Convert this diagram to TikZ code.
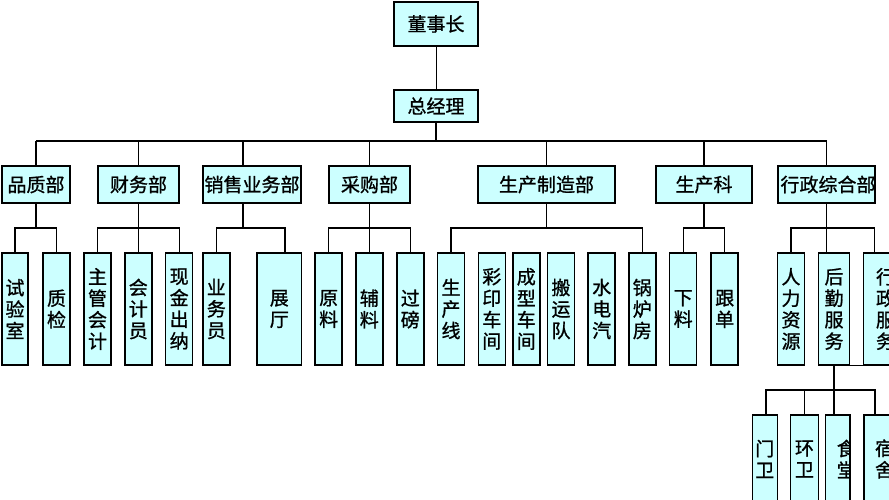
\documentclass[tikz,border=0pt]{standalone}
\usepackage{fontspec}
\newfontfamily\cjk[FakeBold=1]{Noto Sans CJK SC}
\definecolor{boxc}{RGB}{204,255,255}
\tikzset{
  bx/.style={draw=black, line width=1.5pt, fill=boxc, inner sep=0pt,
    font=\cjk\fontsize{19}{21.5}\selectfont, align=center},
  txt/.style={inner sep=0pt, font=\cjk\fontsize{19}{21.5}\selectfont, align=center},
  lvl/.style={bx, minimum height=37pt},
  sub/.style={bx, minimum height=112pt, minimum width=27pt},
  bot/.style={bx, minimum height=88pt, minimum width=27pt},
  ln/.style={line width=1.3pt, draw=black},
}
\begin{document}
\begin{tikzpicture}[x=1pt,y=-1pt]
\useasboundingbox (0,0) rectangle (889,500);
\clip (0,0) rectangle (889,500);
\fill[white] (0,0) rectangle (889,500);

% top
\node[bx, minimum width=84pt, minimum height=44pt] (dsz) at (436,24) {董事长};
\node[bx, minimum width=84pt, minimum height=32pt] (zjl) at (436,106) {总经理};
\coordinate (b0) at (436,141);
\coordinate (sb) at (0,228);
\coordinate (sb2) at (0,390);

% level 2
\node[lvl, minimum width=68pt] (pzb) at (36,184.5) {品质部};
\node[lvl, minimum width=81pt] (cwb) at (138.5,184.5) {财务部};
\node[lvl, minimum width=98pt] (xsb) at (252,184.5) {销售业务部};
\node[lvl, minimum width=81pt] (cgb) at (369.5,184.5) {采购部};
\node[lvl, minimum width=137pt] (sczzb) at (546.5,184.5) {生产制造部};
\node[lvl, minimum width=96pt] (sck) at (704,184.5) {生产科};
\node[lvl, minimum width=97pt] (xzzhb) at (826.5,184.5) {};
\begin{scope}
  \clip (xzzhb.south west) rectangle (xzzhb.north east);
  \node[txt] at ([xshift=1.5pt]xzzhb.center) {行政综合部};
\end{scope}

% level 3
\node[sub, minimum width=26pt] (sys) at (15,309) {试\\验\\室};
\node[sub] (zj) at (56.5,309) {质\\检};
\node[sub] (zgkj) at (97.5,309) {主\\管\\会\\计};
\node[sub] (kjy) at (138.3,309) {会\\计\\员};
\node[sub] (xjcn) at (179.2,309) {现\\金\\出\\纳};
\node[sub] (ywy) at (216.3,309) {业\\务\\员};
\node[sub, minimum width=44.7pt] (zt) at (279.3,309) {展\\厅};
\node[sub] (yl) at (328.7,309) {原\\料};
\node[sub] (fl) at (369.3,309) {辅\\料};
\node[sub] (gb) at (410.3,309) {过\\磅};
\node[sub] (scx) at (451,309) {生\\产\\线};
\node[sub] (cy) at (491.8,309) {彩\\印\\车\\间};
\node[sub] (cx) at (526.3,309) {成\\型\\车\\间};
\node[sub] (byd) at (561,309) {搬\\运\\队};
\node[sub] (sdq) at (601.7,309) {水\\电\\汽};
\node[sub] (glf) at (642.3,309) {锅\\炉\\房};
\node[sub] (xl) at (683.2,309) {下\\料};
\node[sub] (gd) at (724.7,309) {跟\\单};
\node[sub] (rlzy) at (791,309) {人\\力\\资\\源};
\node[sub, minimum width=31.4pt] (hqfw) at (834,309) {后\\勤\\服\\务};
\node[sub] (xzfw) at (876.8,309) {};
\node[txt] at (885.5,309) {行\\政\\服\\务};

% level 4
\node[bot, minimum width=25pt] (mw) at (764.8,459) {门\\卫};
\node[bot, minimum width=27.6pt] (hw) at (804.5,459) {环\\卫};
\node[bot, minimum width=24.3pt] (st) at (837.8,459) {};
\begin{scope}
  \clip (st.south west) rectangle (st.north east);
  \node[txt] at ([xshift=8.5pt]st.center) {食\\堂};
\end{scope}
\node[bot] (ss) at (877.5,459) {};
\node[txt] at (884.5,459) {宿\\舍};

% connectors: top
\draw[line width=1pt] (dsz) -- (zjl);
\draw[ln] (zjl) -- (b0);
\draw[ln] (pzb.north |- b0) -- (xzzhb.north |- b0);
\foreach \n in {pzb,cwb,cgb,sczzb,sck,xzzhb}
  \draw[ln] (\n.north |- b0) -- (\n.north);
\draw[ln] ([xshift=-9pt]xsb.north |- b0) -- ([xshift=-9pt]xsb.north);

% level 2 to level 3
\foreach \n in {pzb,cwb,sczzb,sck}
  \draw[ln] (\n.south) -- (\n.south |- sb);
\draw[ln] ([xshift=-9pt]xsb.south) -- ([xshift=-9pt]xsb.south |- sb);
\draw[ln] (cgb.south) -- (cgb.south |- fl.north);
\draw[ln] (cwb.south |- sb) -- (cwb.south |- kjy.north);
\draw[ln] (xzzhb.south) -- (xzzhb.south |- hqfw.north);

\draw[ln] (sys.north) |- (zj.north |- sb) -- (zj.north);
\draw[ln] (zgkj.north) |- (xjcn.north |- sb) -- (xjcn.north);
\draw[ln] (ywy.north) |- ([xshift=5.7pt]zt.north |- sb) -- ([xshift=5.7pt]zt.north);
\draw[ln] (yl.north) |- (gb.north |- sb) -- (gb.north);
\draw[ln] (scx.north) |- (glf.north |- sb) -- (glf.north);
\draw[ln] (xl.north) |- (gd.north |- sb) -- (gd.north);
\draw[ln] (rlzy.north) |- ([xshift=-2.5pt]xzfw.north |- sb) -- ([xshift=-2.5pt]xzfw.north);
\draw[ln] (hqfw.south east) -- (xzfw.south west);

% level 3 to level 4
\draw[ln] (hqfw.south) -- (hqfw.south |- st.north);
\draw[ln] ([xshift=1.2pt]mw.north) |- ([xshift=-2.5pt]ss.north |- sb2) -- ([xshift=-2.5pt]ss.north);
\draw[ln] (hw.north |- sb2) -- (hw.north);
\end{tikzpicture}
\end{document}
